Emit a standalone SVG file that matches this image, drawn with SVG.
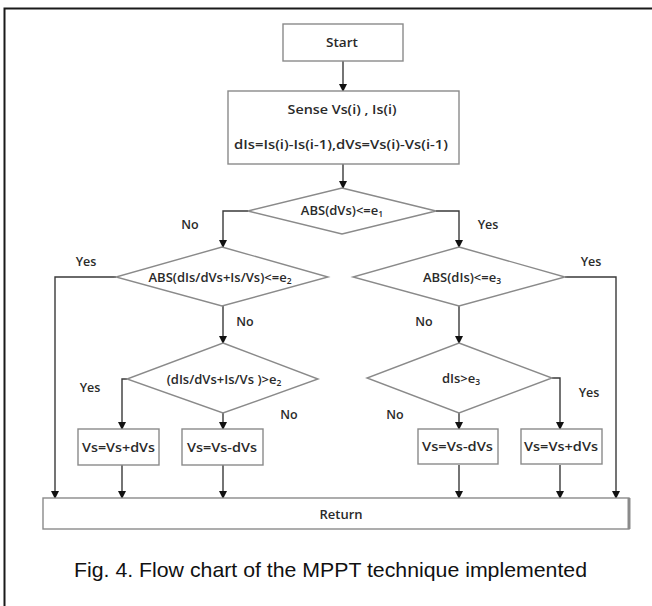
<svg xmlns="http://www.w3.org/2000/svg" width="652" height="606" viewBox="0 0 652 606">
<defs>
<marker id="arr" markerWidth="8" markerHeight="8" refX="7" refY="4" orient="auto" markerUnits="userSpaceOnUse">
<path d="M0,0 L8,4 L0,8 Z" fill="#111"/>
</marker>
<style>
.box{fill:#fff;stroke:#8a8a8a;stroke-width:1.4}
.t{font-family:"Open Sans","Noto Sans",sans-serif;font-weight:600;font-size:13px;fill:#2a2a2a;text-anchor:middle}
.lbl{font-family:"Open Sans","Noto Sans",sans-serif;font-weight:600;font-size:12.5px;fill:#2a2a2a;text-anchor:middle}
.sub{font-size:8.5px}
.c{fill:none;stroke:#3a3a3a;stroke-width:1.4;marker-end:url(#arr)}
.cn{fill:none;stroke:#3a3a3a;stroke-width:1.4}
</style>
</defs>
<rect width="652" height="606" fill="#fff"/>
<path d="M4.5,606 V8.5 H652" fill="none" stroke="#1a1a1a" stroke-width="2"/>

<g id="connectors">
<path class="c" d="M343,61 V91"/>
<path class="c" d="M343,164 V188"/>
<path class="c" d="M248,211 H223 V247"/>
<path class="c" d="M436,211 H459 V247"/>
<path class="c" d="M116,277 H55 V498"/>
<path class="c" d="M223,306 V343"/>
<path class="c" d="M127,379 H122 V429"/>
<path class="c" d="M223,413 V429"/>
<path class="c" d="M122,465 V498"/>
<path class="c" d="M223,465 V498"/>
<path class="c" d="M565,277 H616 V498"/>
<path class="c" d="M459,306 V343"/>
<path class="c" d="M552,378 H560 V429"/>
<path class="c" d="M459,413 V429"/>
<path class="c" d="M459,465 V498"/>
<path class="c" d="M560,465 V498"/>
</g>

<g id="labels">
<text class="lbl" x="190" y="229">No</text>
<text class="lbl" x="488" y="229">Yes</text>
<text class="lbl" x="86" y="266">Yes</text>
<text class="lbl" x="591" y="266">Yes</text>
<text class="lbl" x="245" y="326">No</text>
<text class="lbl" x="424" y="326">No</text>
<text class="lbl" x="90" y="392">Yes</text>
<text class="lbl" x="589" y="397">Yes</text>
<text class="lbl" x="289" y="419">No</text>
<text class="lbl" x="395" y="419">No</text>
</g>

<g id="start">
<rect class="box" x="283" y="24" width="120" height="37"/>
<text class="t" x="342" y="47" textLength="32" lengthAdjust="spacingAndGlyphs">Start</text>
</g>

<g id="sense">
<rect class="box" x="228" y="91" width="231" height="73"/>
<text class="t" x="342" y="114" textLength="109" lengthAdjust="spacingAndGlyphs">Sense Vs(i) , Is(i)</text>
<text class="t" x="341" y="149" textLength="214" lengthAdjust="spacingAndGlyphs">dIs=Is(i)-Is(i-1),dVs=Vs(i)-Vs(i-1)</text>
</g>

<g id="d1">
<polygon class="box" points="342,188 436,211 342,234 248,211"/>
<text class="t" x="342" y="215">ABS(dVs)&lt;=e<tspan class="sub" dy="2">1</tspan></text>
</g>

<g id="d2">
<polygon class="box" points="222,247 328,277 222,306 116,277"/>
<text class="t" x="220" y="282">ABS(dIs/dVs+Is/Vs)&lt;=e<tspan class="sub" dy="2">2</tspan></text>
</g>

<g id="d3">
<polygon class="box" points="459,247 565,277 459,306 353,277"/>
<text class="t" x="462" y="282">ABS(dIs)&lt;=e<tspan class="sub" dy="2">3</tspan></text>
</g>

<g id="d4">
<polygon class="box" points="223,343 318,379 223,413 127,379"/>
<text class="t" x="224" y="384">(dIs/dVs+Is/Vs )&gt;e<tspan class="sub" dy="2">2</tspan></text>
</g>

<g id="d5">
<polygon class="box" points="459,343 552,378 459,413 367,378"/>
<text class="t" x="461" y="383">dIs&gt;e<tspan class="sub" dy="2">3</tspan></text>
</g>

<g id="inc1">
<rect class="box" x="78" y="429" width="81" height="36"/>
<text class="t" x="118.5" y="452" textLength="73" lengthAdjust="spacingAndGlyphs">Vs=Vs+dVs</text>
</g>

<g id="dec1">
<rect class="box" x="182" y="429" width="81" height="36"/>
<text class="t" x="222" y="452" textLength="70" lengthAdjust="spacingAndGlyphs">Vs=Vs-dVs</text>
</g>

<g id="dec2">
<rect class="box" x="418" y="429" width="80" height="35"/>
<text class="t" x="457.5" y="451" textLength="71" lengthAdjust="spacingAndGlyphs">Vs=Vs-dVs</text>
</g>

<g id="inc2">
<rect class="box" x="521" y="429" width="81" height="35"/>
<text class="t" x="561" y="451" textLength="74" lengthAdjust="spacingAndGlyphs">Vs=Vs+dVs</text>
</g>

<g id="return">
<rect class="box" x="43" y="498" width="586" height="31"/>
<line x1="629" y1="498" x2="629" y2="529" stroke="#8a8a8a" stroke-width="3"/>
<text class="t" x="341" y="519">Return</text>
</g>

<text x="74" y="577" font-family="'Liberation Sans',Arial,sans-serif" font-size="21" fill="#111" textLength="513" lengthAdjust="spacingAndGlyphs">Fig. 4. Flow chart of the MPPT technique implemented</text>
</svg>
